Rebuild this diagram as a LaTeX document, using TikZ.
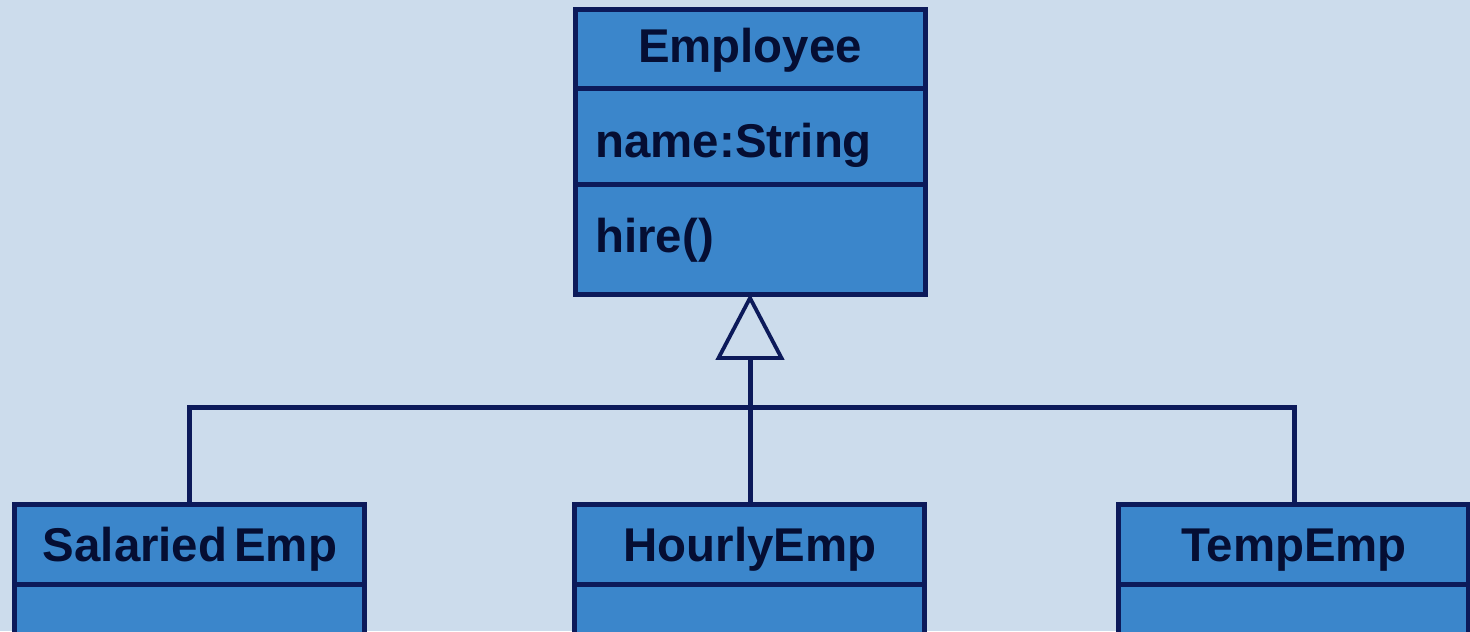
\documentclass[tikz,border=0pt]{standalone}
\usepackage{fontspec}
\setmainfont{Liberation Sans}
\definecolor{bg}{HTML}{CCDCEC}
\definecolor{boxfill}{HTML}{3B86CB}
\definecolor{navy}{HTML}{0C1A5A}
\definecolor{ink}{HTML}{050E33}
\begin{document}
\begin{tikzpicture}[x=0.5pt,y=-0.5pt,
  comp/.style={draw=navy, fill=boxfill, line width=2.5pt, minimum width=175pt, inner sep=0pt, outer sep=0pt, anchor=north west},
  lbl/.style={text=ink, font=\bfseries\fontsize{23.7}{28}\selectfont, inner sep=0pt},
  conn/.style={draw=navy, line width=2.5pt},
  tri/.style={draw=navy, fill=bg, line width=1.9pt, line join=miter}]
\fill[bg] (0,0) rectangle (1470,631);
\useasboundingbox (0,0) rectangle (1470,631);
\begin{scope}
\clip (0,0) rectangle (1470,631);
% Employee class
\node[comp, minimum height=39.5pt] (etitle) at (575.5,9.5) {};
\node[comp, minimum height=48pt] (eattr) at (575.5,88.5) {};
\node[comp, minimum height=55pt] (emeth) at (575.5,184.5) {};
\node[lbl, anchor=base] (etxt) at (750,63) {Employee};
\node[lbl, anchor=base west] (atxt) at (595,157) {name:String};
\node[lbl, anchor=base west] (mtxt) at (595,252) {hire()};
% subclasses
\node[comp, minimum height=40pt] (stitle) at (14.5,504.5) {};
\node[comp, minimum height=40pt] (sattr) at (14.5,584.5) {};
\node[comp, minimum height=40pt] (htitle) at (574.5,504.5) {};
\node[comp, minimum height=40pt] (hattr) at (574.5,584.5) {};
\node[comp, minimum height=40pt] (ttitle) at (1118.5,504.5) {};
\node[comp, minimum height=40pt] (tattr) at (1118.5,584.5) {};
\node[lbl, anchor=base] (stxt) at (190,561) {Salaried\hspace{0.15em}Emp};
\node[lbl, anchor=base] (htxt) at (750,561) {HourlyEmp};
\node[lbl, anchor=base] (ttxt) at (1294,561) {TempEmp};
\end{scope}
% connectors
\coordinate (apex) at (750,298);
\coordinate (tl) at (718.5,358);
\coordinate (tr) at (781.5,358);
\coordinate (tb) at (750,358);
\coordinate (bl) at (189.5,407.5);
\coordinate (br) at (1294,407.5);
\draw[conn] (tb) -- (htitle.north -| tb);
\draw[conn, line cap=rect] (bl) -- (br);
\draw[conn] (bl) -- (stitle.north -| bl);
\draw[conn] (br) -- (ttitle.north -| br);
\draw[tri] (apex) -- (tr) -- (tl) -- cycle;
\end{tikzpicture}
\end{document}
